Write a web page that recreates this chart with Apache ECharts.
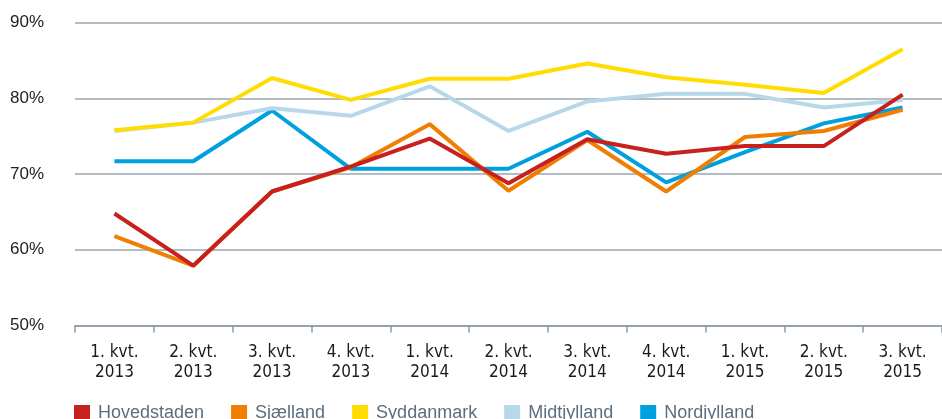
<!DOCTYPE html>
<html>
<head>
<meta charset="utf-8">
<script src="https://cdn.jsdelivr.net/npm/echarts@6.0.0/dist/echarts.min.js"></script>
<style>
html, body { margin: 0; padding: 0; background: #fff; }
#chart { width: 942px; height: 419px; }
</style>
</head>
<body>
<div id="chart"></div>
<script>
// kvartaler
var categories = ['1. kvt.\n2013', '2. kvt.\n2013', '3. kvt.\n2013', '4. kvt.\n2013',
	'1. kvt.\n2014', '2. kvt.\n2014', '3. kvt.\n2014', '4. kvt.\n2014',
	'1. kvt.\n2015', '2. kvt.\n2015', '3. kvt.\n2015'];

var hovedstaden = [64.8, 57.9, 67.7, 71.0, 74.7, 68.8, 74.6, 72.7, 73.7, 73.7, 80.5];
var sjaelland   = [61.8, 57.9, 67.7, 70.9, 76.6, 67.8, 74.5, 67.7, 74.9, 75.7, 78.5];
var syddanmark  = [75.8, 76.8, 82.7, 79.8, 82.6, 82.6, 84.6, 82.8, 81.8, 80.7, 86.5];
var midtjylland = [75.7, 76.8, 78.7, 77.7, 81.6, 75.7, 79.6, 80.6, 80.6, 78.8, 79.8];
var nordjylland = [71.7, 71.7, 78.4, 70.7, 70.7, 70.7, 75.6, 68.9, 72.9, 76.7, 78.8];

var names = ['Hovedstaden', 'Sjælland', 'Syddanmark', 'Midtjylland', 'Nordjylland'];
var yTicks = [50, 60, 70, 80, 90];

function lineSeries(name, data, color) {
	return {
		name : name,
		type : 'line',
		data : data,
		symbol : 'none',
		color : color,
		lineStyle : {
			width : 4,
			color : color
		}
	};
}

var chart = echarts.init(document.getElementById('chart'));

var option = {
	animation : false,
	grid : {
		left : 75,
		top : 22.7,
		width : 876,
		bottom : 93.5
	},
	legend : {
		data : names,
		left : 74,
		top : 404,
		padding : 0,
		icon : 'rect',
		itemWidth : 16,
		itemHeight : 16,
		itemGap : 27,
		textStyle : {
			fontFamily : 'Liberation Sans',
			fontSize : 18,
			color : '#5b6e80',
			padding : [0, 0, 0, 3]
		}
	},
	xAxis : {
		type : 'category',
		data : categories,
		boundaryGap : true,
		axisLine : {
			lineStyle : { color : '#8d99a5', width : 1.5 }
		},
		axisTick : {
			show : true,
			length : 7,
			lineStyle : { color : '#8d99a5', width : 1.5 }
		},
		axisLabel : {
			margin : 17,
			fontFamily : 'DejaVu Sans Condensed',
			fontSize : 17,
			lineHeight : 20,
			color : '#1a1a1a',
			interval : 0
		}
	},
	yAxis : {
		type : 'value',
		min : yTicks[0],
		max : yTicks[yTicks.length - 1],
		interval : 10,
		axisLine : { show : false },
		axisTick : { show : false },
		splitLine : {
			lineStyle : { color : '#9aa5b0', width : 1.5 }
		},
		axisLabel : {
			margin : 31,
			fontFamily : 'Liberation Sans',
			fontSize : 17,
			color : '#222',
			formatter : '{value}%'
		}
	},
	// tegnes bagfra, så Hovedstaden ligger øverst
	series : [
		lineSeries('Nordjylland', nordjylland, '#00a0de'),
		lineSeries('Midtjylland', midtjylland, '#b8d8ea'),
		lineSeries('Syddanmark', syddanmark, '#ffdd00'),
		lineSeries('Sjælland', sjaelland, '#ef7f00'),
		lineSeries('Hovedstaden', hovedstaden, '#c6211f')
	]
};

chart.setOption(option, true);
</script>
</body>
</html>
